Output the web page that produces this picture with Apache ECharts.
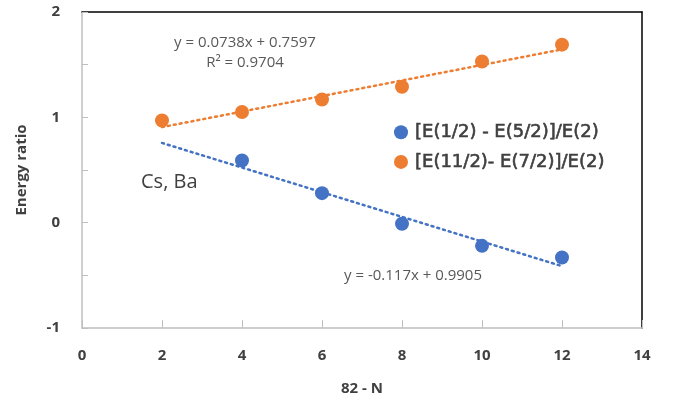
<!DOCTYPE html>
<html><head><meta charset="utf-8">
<script src="https://cdn.jsdelivr.net/npm/echarts@6/dist/echarts.min.js"></script>
<style>html,body{margin:0;padding:0;background:#fff}#c{width:678px;height:406px}</style>
</head><body><div id="c"></div>
<script>
const xTicks = [0, 2, 4, 6, 8, 10, 12, 14];
const yTicks = [-1, 0, 1, 2];
const blueX = [4, 6, 8, 10, 12];
const blueY = [0.59, 0.28, -0.01, -0.22, -0.33];
const orangeX = [2, 4, 6, 8, 10, 12];
const orangeY = [0.97, 1.05, 1.17, 1.29, 1.53, 1.69];
const trendX = [2, 12];
const blueTrendY = [0.757, -0.413];
const orangeTrendY = [0.907, 1.645];
const seriesNames = ['[E(1/2) - E(5/2)]/E(2)', '[E(11/2)- E(7/2)]/E(2)'];
const eqBlue = 'y = -0.117x + 0.9905';
const eqOrange = 'y = 0.0738x + 0.7597';
const r2Orange = 'R² = 0.9704';
const label = 'Cs, Ba';

const zip = (a, b) => a.map((v, i) => [v, b[i]]);
const BLUE = '#4472C4', ORANGE = '#ED7D31', TXT = '#404040';
const xMin = xTicks[0], xMax = xTicks[xTicks.length - 1];
const yMin = yTicks[0], yMax = yTicks[yTicks.length - 1];
const chart = echarts.init(document.getElementById('c'));
chart.setOption({
  animation: false,
  textStyle: { fontFamily: 'Open Sans' },
  grid: { left: 82, right: 36, top: 12, bottom: 78 },
  legend: {
    orient: 'vertical', left: 389, top: 118, itemGap: 11, itemWidth: 14, itemHeight: 14,
    icon: 'circle',
    data: seriesNames,
    itemStyle: { opacity: 1 },
    textStyle: { fontSize: 18, color: TXT, fontWeight: 'normal', fontFamily: 'DejaVu Sans', padding: [0, 0, 0, 2],
      textBorderColor: TXT, textBorderWidth: 0.6 }
  },
  xAxis: [{
    type: 'value', min: xMin, max: xMax, interval: 2,
    name: '82 - N', nameLocation: 'middle', nameGap: 53,
    nameTextStyle: { fontSize: 15, fontWeight: 'bold', color: TXT },
    axisLine: { show: true, onZero: false, lineStyle: { color: '#bfbfbf', width: 1.5 } },
    axisTick: { show: true, inside: true, length: 8, lineStyle: { color: '#bfbfbf' } },
    axisLabel: { fontSize: 15, fontWeight: 'bold', color: TXT, margin: 20 },
    splitLine: { show: false }
  }, {
    type: 'value', position: 'top', min: xMin, max: xMax, interval: 2,
    axisLine: { show: true, onZero: false, lineStyle: { color: '#000', width: 1.5 } },
    axisTick: { show: false }, axisLabel: { show: false }, splitLine: { show: false }
  }],
  yAxis: [{
    type: 'value', min: yMin, max: yMax, interval: 0.5,
    name: 'Energy ratio', nameLocation: 'middle', nameGap: 53, nameRotate: 90,
    nameTextStyle: { fontSize: 15, fontWeight: 'bold', color: TXT },
    axisLine: { show: true, onZero: false, lineStyle: { color: '#bfbfbf', width: 1.5 } },
    axisTick: { show: true, inside: true, length: 6, lineStyle: { color: '#bfbfbf' } },
    axisLabel: { fontSize: 15, fontWeight: 'bold', color: TXT, margin: 22,
      formatter: v => (Number.isInteger(v) ? String(v) : '') },
    splitLine: { show: false }
  }, {
    type: 'value', position: 'right', min: yMin, max: yMax, interval: 0.5,
    axisLine: { show: true, onZero: false, lineStyle: { color: '#000', width: 1.5 } },
    axisTick: { show: false }, axisLabel: { show: false }, splitLine: { show: false }
  }],
  graphic: [
    { type: 'text', x: 245, y: 33, style: { text: eqOrange + '\n' + r2Orange, align: 'center', fill: '#595959', font: '15px "Open Sans"', lineHeight: 20 } },
    { type: 'text', x: 344, y: 268, style: { text: eqBlue, fill: '#595959', font: '15px "Open Sans"' } },
    { type: 'text', x: 141, y: 172, style: { text: label, fill: TXT, font: '20px "Open Sans"' } }
  ],
  series: [
    { name: seriesNames[0], type: 'scatter', data: zip(blueX, blueY), symbolSize: 14, itemStyle: { color: BLUE, opacity: 1 }, z: 3 },
    { name: seriesNames[1], type: 'scatter', data: zip(orangeX, orangeY), symbolSize: 14, itemStyle: { color: ORANGE, opacity: 1 }, z: 3 },
    { type: 'line', data: zip(trendX, blueTrendY), symbol: 'none', lineStyle: { color: BLUE, width: 2.5, type: [2, 4], cap: 'round' }, z: 2 },
    { type: 'line', data: zip(trendX, orangeTrendY), symbol: 'none', lineStyle: { color: ORANGE, width: 2.5, type: [2, 4], cap: 'round' }, z: 2 }
  ]
});
</script></body></html>
